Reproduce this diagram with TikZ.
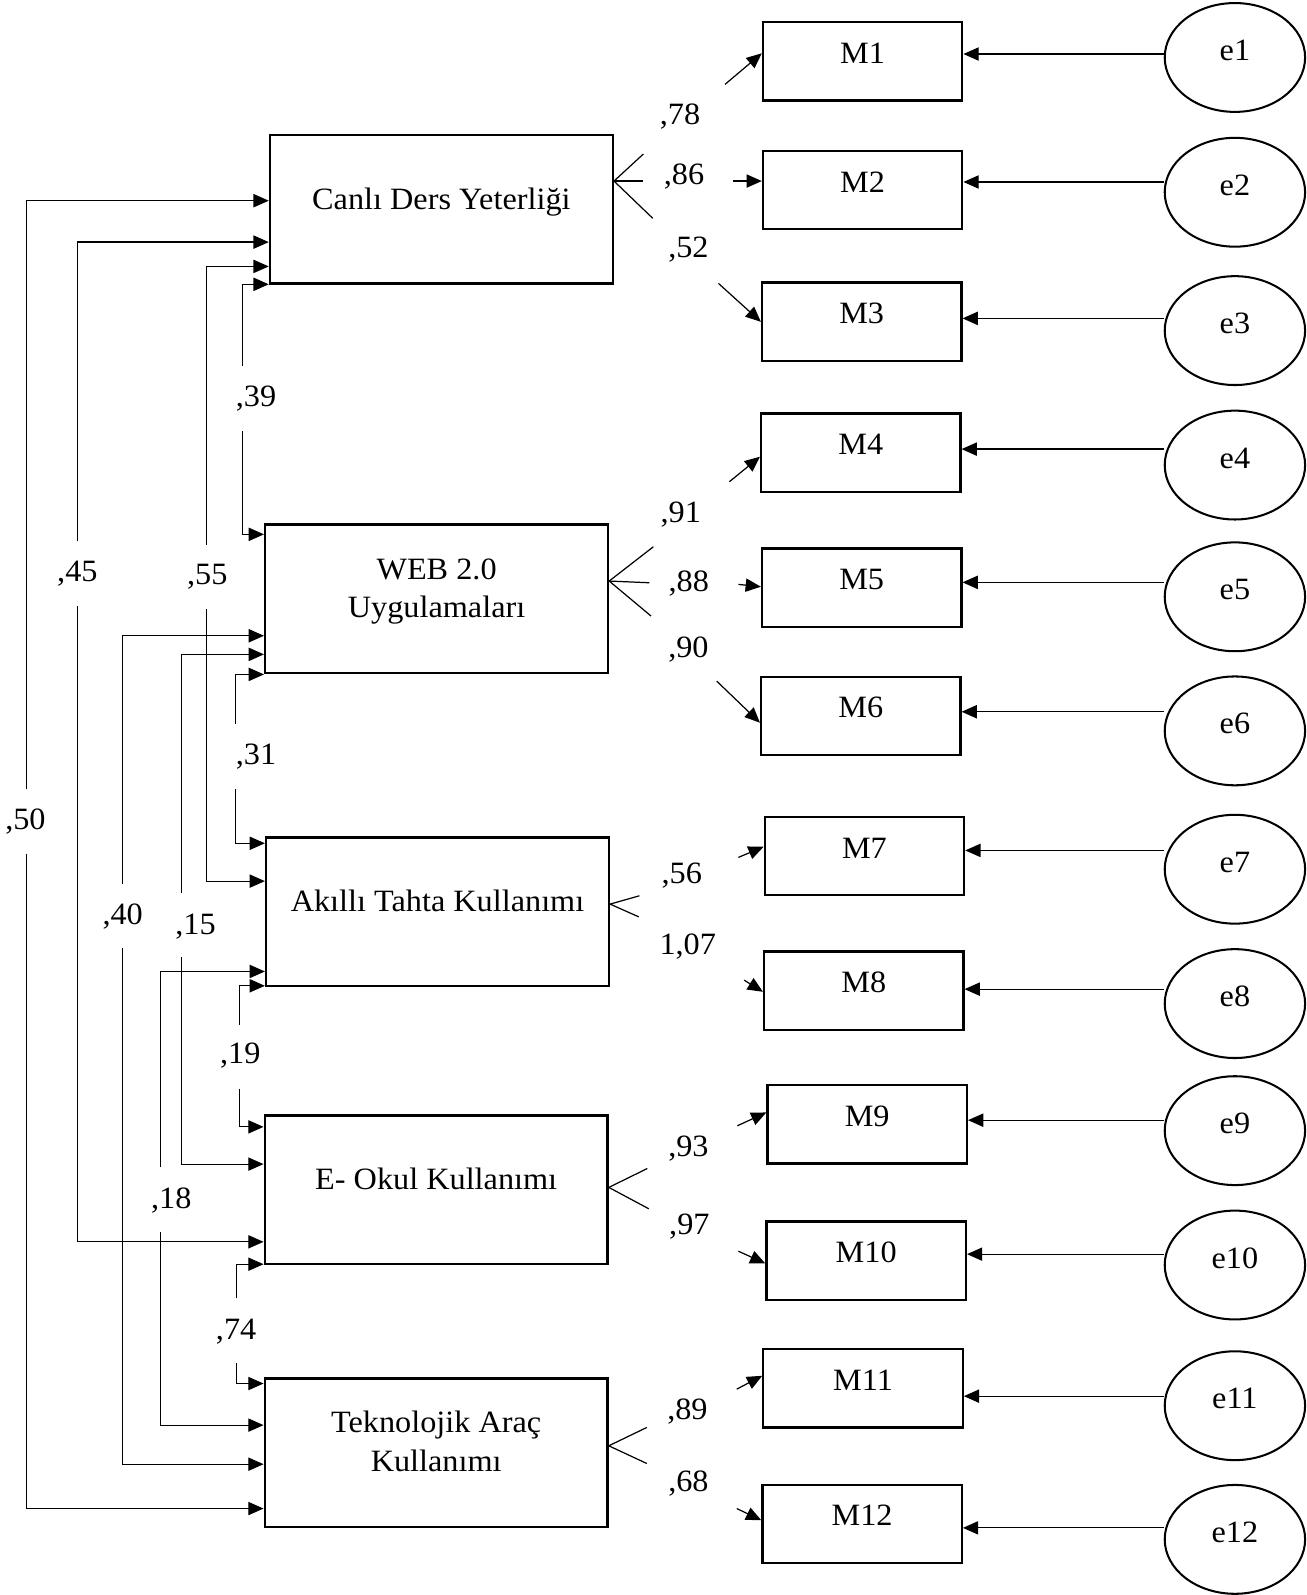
\documentclass[tikz,border=0pt]{standalone}
\usepackage{fontspec}
\setmainfont[FakeStretch=1.04]{Liberation Serif}
\usetikzlibrary{arrows.meta,shapes.geometric}
\begin{document}
\begin{tikzpicture}[x=1pt,y=-1pt,
  every node/.style={font=\fontsize{30.5}{38}\selectfont},
  lat/.style={draw,line width=2.4pt,minimum width=337pt,minimum height=146pt,inner sep=0pt,text height=10pt,text depth=10pt},
  lattwo/.style={lat,text height=10pt,text depth=49pt},
  ind/.style={draw,line width=2.2pt,minimum width=196pt,minimum height=77pt,inner sep=0pt,text height=12pt,text depth=8pt},
  err/.style={draw,ellipse,line width=2pt,minimum width=138pt,minimum height=107pt,inner sep=0pt,text height=13pt,text depth=7pt},
  val/.style={inner sep=0pt},
  con/.style={line width=1.2pt},
  tip/.style={con,-{Triangle[length=15pt,width=13pt]}}]
\useasboundingbox[fill=white] (0,0) rectangle (1284,1568);

% latent boxes
\node[lat] (canli) at (433.9,205.5) {Canlı Ders Yeterliği};
\node[lattwo] (web) at (429.2,588.8) {\begin{tabular}[t]{@{}c@{}}WEB 2.0\\Uygulamaları\end{tabular}};
\node[lat] (akilli) at (430.1,896.3) {Akıllı Tahta Kullanımı};
\node[lat] (eokul) at (428.8,1169.7) {E- Okul Kullanımı};
\node[lattwo] (tek) at (428.8,1428.1) {\begin{tabular}[t]{@{}c@{}}Teknolojik Araç\\Kullanımı\end{tabular}};

% indicator boxes
\node[ind] (M1) at (848.0,60.2) {M1};
\node[ind] (M2) at (848.0,186.8) {M2};
\node[ind] (M3) at (847.1,316.3) {M3};
\node[ind] (M4) at (846.2,445.0) {M4};
\node[ind] (M5) at (847.1,577.6) {M5};
\node[ind] (M6) at (846.2,703.8) {M6};
\node[ind] (M7) at (849.8,841.6) {M7};
\node[ind] (M8) at (849.1,973.9) {M8};
\node[ind] (M9) at (852.5,1105.3) {M9};
\node[ind] (M10) at (851.5,1239.3) {M10};
\node[ind] (M11) at (848.4,1364.8) {M11};
\node[ind] (M12) at (847.5,1498.0) {M12};

% error ellipses
\node[err] (e1) at (1214,56.5) {e1};
\node[err] (e2) at (1214,189.0) {e2};
\node[err] (e3) at (1214,325.0) {e3};
\node[err] (e4) at (1214,457.2) {e4};
\node[err] (e5) at (1214,586.7) {e5};
\node[err] (e6) at (1214,718.5) {e6};
\node[err] (e7) at (1214,854.5) {e7};
\node[err] (e8) at (1214,986.6) {e8};
\node[err] (e9) at (1214,1111.5) {e9};
\node[err] (e10) at (1214,1243.6) {e10};
\node[err] (e11) at (1214,1381.9) {e11};
\node[err] (e12) at (1214,1513.3) {e12};

% error -> indicator
\draw[tip] (e1.west |- 0,53.1) -- (M1.east |- 0,53.1);
\draw[tip] (e2.west |- 0,178.9) -- (M2.east |- 0,178.9);
\draw[tip] (e3.west |- 0,313.0) -- (M3.east |- 0,313.0);
\draw[tip] (e4.west |- 0,441.5) -- (M4.east |- 0,441.5);
\draw[tip] (e5.west |- 0,572.5) -- (M5.east |- 0,572.5);
\draw[tip] (e6.west |- 0,699.7) -- (M6.east |- 0,699.7);
\draw[tip] (e7.west |- 0,836.0) -- (M7.east |- 0,836.0);
\draw[tip] (e8.west |- 0,972.4) -- (M8.east |- 0,972.4);
\draw[tip] (e9.west |- 0,1101.2) -- (M9.east |- 0,1101.2);
\draw[tip] (e10.west |- 0,1232.9) -- (M10.east |- 0,1232.9);
\draw[tip] (e11.west |- 0,1372.5) -- (M11.east |- 0,1372.5);
\draw[tip] (e12.west |- 0,1502.0) -- (M12.east |- 0,1502.0);

% loadings: stubs, arrow segments, values
\coordinate (s1) at (632.5,151.4); \coordinate (a1) at (712.8,82.9);
\coordinate (s2) at (632.5,178.0); \coordinate (a2) at (721.0,178.0);
\coordinate (s3) at (641.7,214.6); \coordinate (a3) at (706.3,278.6);
\draw[con] (canli.east |- 0,178) -- (s1);
\draw[con] (canli.east |- 0,178) -- (s2);
\draw[con] (canli.east |- 0,178) -- (s3);
\draw[tip] (a1) -- (M1.west |- 0,52.4);
\draw[tip] (a2) -- (M2.west |- 0,178.0);
\draw[tip] (a3) -- (M3.west |- 0,316.4);
\node[val] (l78) at (668.5,114.7) {,78};
\node[val] (l86) at (672.5,173.7) {,86};
\node[val] (l52) at (676.8,245.8) {,52};

\coordinate (s4) at (642.3,537.5); \coordinate (a4) at (717.0,473.6);
\coordinate (s5) at (638.4,572.9); \coordinate (a5) at (725.9,574.5);
\coordinate (s6) at (640.0,605.6); \coordinate (a6) at (704.6,669.6);
\draw[con] (web.east |- 0,571.2) -- (s4);
\draw[con] (web.east |- 0,571.2) -- (s5);
\draw[con] (web.east |- 0,571.2) -- (s6);
\draw[tip] (a4) -- (M4.west |- 0,449.0);
\draw[tip] (a5) -- (M5.west |- 0,576.8);
\draw[tip] (a6) -- (M6.west |- 0,710.5);
\node[val] (l91) at (669.3,506.3) {,91};
\node[val] (l88) at (677.1,573.5) {,88};
\node[val] (l90) at (676.8,639.0) {,90};

\coordinate (s7) at (628.6,880.6); \coordinate (a7) at (725.9,842.9);
\coordinate (s8) at (627.9,901.3); \coordinate (a8) at (731.5,963.5);
\draw[con] (akilli.east |- 0,888.8) -- (s7);
\draw[con] (akilli.east |- 0,888.8) -- (s8);
\draw[tip] (a7) -- (M7.west |- 0,832.4);
\draw[tip] (a8) -- (M8.west |- 0,975.0);
\node[val] (l56) at (670.2,860.3) {,56};
\node[val] (l107) at (676.1,930.8) {1,07};

\coordinate (s9) at (636.4,1148.7); \coordinate (a9) at (724.9,1106.7);
\coordinate (s10) at (637.8,1188.3); \coordinate (a10) at (725.9,1230.0);
\draw[con] (eokul.east |- 0,1167.3) -- (s9);
\draw[con] (eokul.east |- 0,1167.3) -- (s10);
\draw[tip] (a9) -- (M9.west |- 0,1093.6);
\draw[tip] (a10) -- (M10.west |- 0,1242.1);
\node[val] (l93) at (676.8,1129.0) {,93};
\node[val] (l97) at (677.7,1206.1) {,97};

\coordinate (s11) at (635.8,1403.3); \coordinate (a11) at (724.3,1365.6);
\coordinate (s12) at (635.8,1438.7); \coordinate (a12) at (724.3,1483.0);
\draw[con] (tek.east |- 0,1421.3) -- (s11);
\draw[con] (tek.east |- 0,1421.3) -- (s12);
\draw[tip] (a11) -- (M11.west |- 0,1352.5);
\draw[tip] (a12) -- (M12.west |- 0,1494.5);
\node[val] (l89) at (675.8,1388.0) {,89};
\node[val] (l68) at (676.8,1458.4) {,68};

% correlations between latent factors
\coordinate (c50a) at (25.7,776.0);   \coordinate (c50b) at (25.7,839.2);
\draw[tip] (c50a) |- (canli.west |- 0,197.3);
\draw[tip] (c50b) |- (tek.west |- 0,1483.0);
\node[val] (l50) at (25.0,807.6) {,50};

\coordinate (c45a) at (75.9,532.3);   \coordinate (c45b) at (75.9,595.5);
\draw[tip] (c45a) |- (canli.west |- 0,238.0);
\draw[tip] (c45b) |- (eokul.west |- 0,1220.8);
\node[val] (l45) at (76.1,564.0) {,45};

\coordinate (c55a) at (203.2,535.8);  \coordinate (c55b) at (203.2,599.0);
\draw[tip] (c55a) |- (canli.west |- 0,261.9);
\draw[tip] (c55b) |- (akilli.west |- 0,866.2);
\node[val] (l55) at (203.8,567.3) {,55};

\coordinate (c39a) at (238.4,360.0);  \coordinate (c39b) at (238.4,423.5);
\draw[tip] (c39a) |- (canli.west |- 0,279.5);
\draw[tip] (c39b) |- (web.west |- 0,525.3);
\node[val] (l39) at (251.7,391.9) {,39};

\coordinate (c40a) at (120.2,869.0);  \coordinate (c40b) at (120.2,932.3);
\draw[tip] (c40a) |- (web.west |- 0,625.0);
\draw[tip] (c40b) |- (tek.west |- 0,1439.4);
\node[val] (l40) at (120.6,900.6) {,40};

\coordinate (c15a) at (178.3,877.9);  \coordinate (c15b) at (178.3,941.0);
\draw[tip] (c15a) |- (web.west |- 0,643.3);
\draw[tip] (c15b) |- (eokul.west |- 0,1144.4);
\node[val] (l15) at (192.2,911.2) {,15};

\coordinate (c31a) at (231.3,712.1);  \coordinate (c31b) at (231.3,776.0);
\draw[tip] (c31a) |- (web.west |- 0,663.0);
\draw[tip] (c31b) |- (akilli.west |- 0,829.0);
\node[val] (l31) at (251.7,744.2) {,31};

\coordinate (c18a) at (157.5,1147.0); \coordinate (c18b) at (157.5,1211.0);
\draw[tip] (c18a) |- (akilli.west |- 0,955.0);
\draw[tip] (c18b) |- (tek.west |- 0,1401.0);
\node[val] (l18) at (168.4,1179.8) {,18};

\coordinate (c19a) at (235.5,1007.8); \coordinate (c19b) at (235.5,1071.0);
\draw[tip] (c19a) |- (akilli.west |- 0,969.1);
\draw[tip] (c19b) |- (eokul.west |- 0,1107.8);
\node[val] (l19) at (236.2,1037.6) {,19};

\coordinate (c74a) at (232.2,1276.5); \coordinate (c74b) at (232.2,1340.4);
\draw[tip] (c74a) |- (eokul.west |- 0,1242.8);
\draw[tip] (c74b) |- (tek.west |- 0,1360.1);
\node[val] (l74) at (232.1,1309.3) {,74};
\end{tikzpicture}
\end{document}
